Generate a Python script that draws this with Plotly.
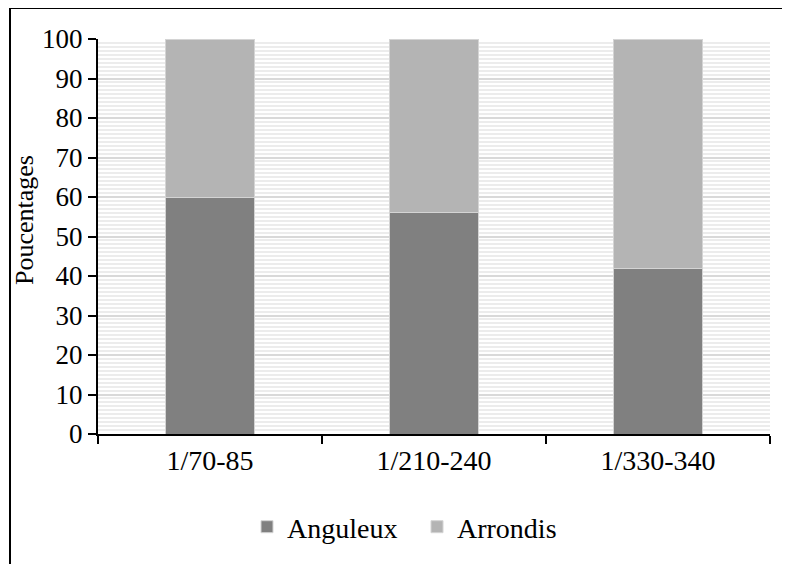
import plotly.graph_objects as go

categories = ["1/70-85", "1/210-240", "1/330-340"]
anguleux = [60, 56, 42]
arrondis = [40, 44, 58]
series_names = ["Anguleux", "Arrondis"]
y_ticks = list(range(0, 101, 10))
y_title = "Poucentages"

FONT = "Liberation Serif"

fig = go.Figure()
fig.add_trace(go.Bar(x=categories, y=anguleux, name=series_names[0],
                     marker=dict(color="#808080", line=dict(color="#d4d4d4", width=1)),
                     width=0.4))
fig.add_trace(go.Bar(x=categories, y=arrondis, name=series_names[1],
                     marker=dict(color="#b4b4b4", line=dict(color="#d4d4d4", width=1)),
                     width=0.4))

# page body adds an 8px offset; figure coordinates = screen - 8
W, H = 782, 556
L, R, T, B = 90, 20, 31, 130
pw, ph = W - L - R, H - T - B

def px(x):
    return (x - L) / pw

def py(y):
    return (H - B - y) / ph

fig.update_layout(
    width=W, height=H,
    barmode="stack",
    margin=dict(l=L, r=R, t=T, b=B),
    paper_bgcolor="white",
    plot_bgcolor="white",
    font=dict(family=FONT, color="black", size=27),
    legend=dict(orientation="h", x=px(239), xanchor="left", y=py(519), yanchor="middle",
                font=dict(size=28, family=FONT), traceorder="normal",
                entrywidth=125, entrywidthmode="pixels", tracegroupgap=0),
    showlegend=True,
    shapes=[dict(type="rect", xref="paper", yref="paper",
                 x0=px(2), x1=px(830), y0=py(600), y1=py(0),
                 line=dict(color="black", width=2), fillcolor="rgba(0,0,0,0)", layer="below")],
    annotations=[dict(text=y_title, textangle=-90, xref="paper", yref="paper",
                      x=px(16), y=py(212), xanchor="center", yanchor="middle",
                      showarrow=False, font=dict(size=26, family=FONT))],
)

fig.update_xaxes(
    showline=True, linecolor="black", linewidth=2,
    ticks="outside", ticklen=8, tickwidth=2, tickcolor="black",
    tickson="boundaries", showgrid=False,
    tickfont=dict(size=28, family=FONT),
)
fig.update_yaxes(
    range=[0, 100], tickvals=y_ticks,
    showline=True, linecolor="black", linewidth=2,
    ticks="outside", ticklen=8, tickwidth=2, tickcolor="black",
    showgrid=True, gridcolor="#d9d9d9", gridwidth=1.5,
    minor=dict(dtick=1, showgrid=True, gridcolor="#ececec", gridwidth=1.5),
    zeroline=False,
    tickfont=dict(size=27, family=FONT),
)

fig.write_html("out.html")
